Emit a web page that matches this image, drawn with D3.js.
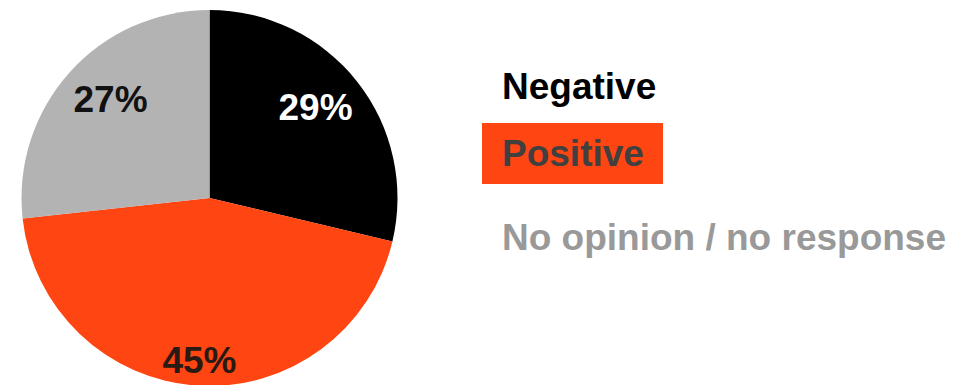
<!DOCTYPE html>
<html>
<head>
<meta charset="utf-8">
<script src="https://cdn.jsdelivr.net/npm/d3@7"></script>
<style>
  body { margin: 0; background: #fff; }
  text { font-family: "Liberation Sans", Arial, sans-serif; font-weight: bold; }
</style>
</head>
<body>
<div id="chart"></div>
<script>
/**
 * CONSTANTS AND GLOBALS
 * */
const width = 963,
  height = 385,
  cx = 209.5,
  cy = 198,
  radius = 188;

// data
const categories = ["Negative", "Positive", "No opinion / no response"];
const values = [29, 45, 27];
const sliceColors = ["#000000", "#ff4511", "#b3b3b3"];
const labelColors = ["#ffffff", "#2a1a14", "#111111"];
const legendColors = ["#000000", "#404040", "#999999"];

const data = categories.map((c, i) => ({ category: c, value: values[i] }));

const svg = d3
  .select("#chart")
  .append("svg")
  .attr("width", width)
  .attr("height", height);

const g = svg.append("g").attr("transform", `translate(${cx},${cy})`);

const pie = d3.pie().sort(null).value(d => d.value);
const arcs = pie(data);

const arc = d3.arc().innerRadius(0).outerRadius(radius);

g.selectAll("path.slice")
  .data(arcs)
  .join("path")
  .attr("class", "slice")
  .attr("d", arc)
  .attr("fill", (d, i) => sliceColors[i]);

// labels sit at slightly different spots in the original, so nudge them a bit
const labelRadius = { "Negative": 139, "Positive": 162, "No opinion / no response": 141 };
const labelNudge = { "Negative": [-3, -5], "Positive": [0, 0], "No opinion / no response": [6, -5] };

g.selectAll("text.pct")
  .data(arcs)
  .join("text")
  .attr("class", "pct")
  .attr("transform", d => {
    const r = labelRadius[d.data.category];
    const [x, y] = d3.arc().innerRadius(r).outerRadius(r).centroid(d);
    const [nx, ny] = labelNudge[d.data.category];
    return `translate(${x + nx},${y + ny})`;
  })
  .attr("text-anchor", "middle")
  .attr("dy", "0.36em")
  .attr("font-size", 37)
  .attr("fill", (d, i) => labelColors[i])
  .text(d => d.data.value + "%");

// LEGEND
const legendY = d3.scalePoint().domain(categories).range([99, 250]);

svg.append("rect")
  .attr("x", 482)
  .attr("y", 123)
  .attr("width", 181)
  .attr("height", 61)
  .attr("fill", sliceColors[1]);

svg.selectAll("text.legend")
  .data(categories)
  .join("text")
  .attr("class", "legend")
  .attr("x", 502)
  .attr("y", d => legendY(d) - (d === "Positive" ? 8.5 : 0))
  .attr("font-size", 37)
  .attr("fill", (d, i) => legendColors[i])
  .text(d => d);
</script>
</body>
</html>
